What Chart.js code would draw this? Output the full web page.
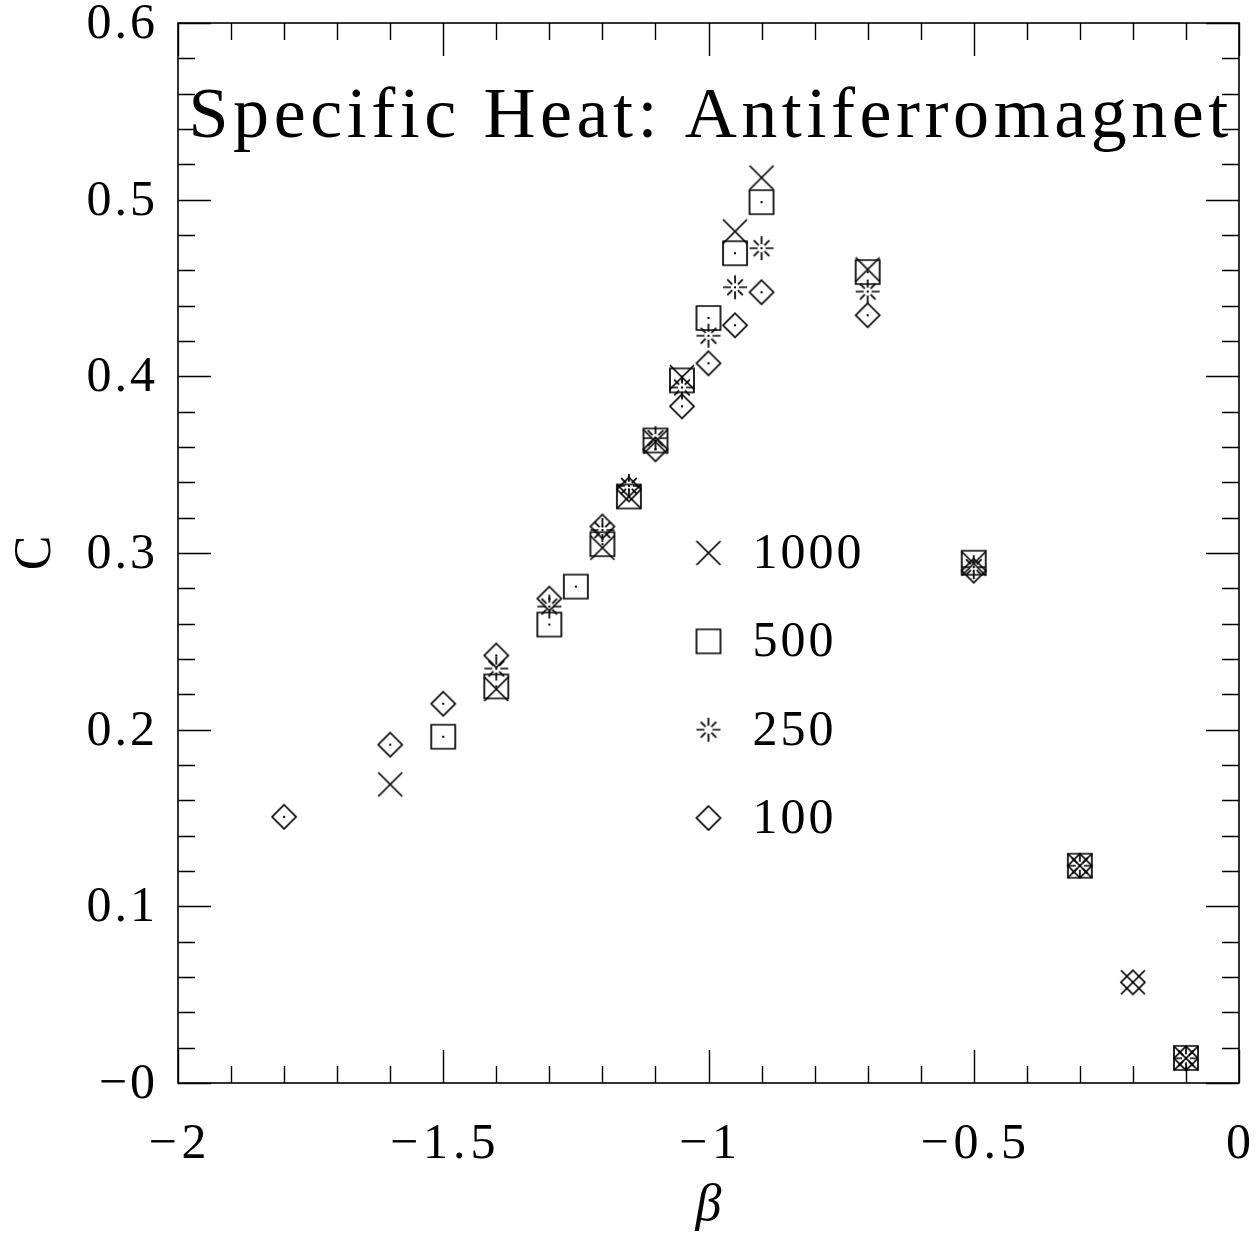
<!DOCTYPE html>
<html>
<head>
<meta charset="utf-8">
<script src="https://cdn.jsdelivr.net/npm/chart.js@4.4.1/dist/chart.umd.min.js"></script>
<style>
  html, body { margin: 0; padding: 0; background: #fff; }
  #wrap { width: 1258px; height: 1233px; }
</style>
</head>
<body>
<div id="wrap"><canvas id="c" width="1258" height="1233"></canvas></div>
<script>
// ---- Data ----
const seriesNames = ["1000", "500", "250", "100"];

const beta1000 = [-1.6, -1.4, -1.2, -1.15, -1.1, -1.05, -0.95, -0.9, -0.7, -0.5, -0.3, -0.2, -0.1];
const c1000    = [0.169, 0.223, 0.303, 0.332, 0.363, 0.3995, 0.482, 0.5125, 0.4605, 0.294, 0.123, 0.057, 0.014];

const beta500 = [-1.5, -1.4, -1.3, -1.25, -1.2, -1.15, -1.1, -1.05, -1.0, -0.95, -0.9, -0.7, -0.5, -0.3, -0.1];
const c500    = [0.196, 0.2245, 0.2595, 0.281, 0.305, 0.332, 0.3637, 0.3977, 0.433, 0.4697, 0.4986, 0.459, 0.2945, 0.123, 0.0142];

const beta250 = [-1.4, -1.3, -1.2, -1.15, -1.1, -1.05, -1.0, -0.95, -0.9, -0.7, -0.5, -0.3, -0.1];
const c250    = [0.2346, 0.2697, 0.313, 0.338, 0.365, 0.3937, 0.423, 0.4504, 0.4725, 0.448, 0.292, 0.123, 0.014];

const beta100 = [-1.8, -1.6, -1.5, -1.4, -1.3, -1.2, -1.15, -1.1, -1.05, -1.0, -0.95, -0.9, -0.7, -0.5, -0.3, -0.2, -0.1];
const c100    = [0.1507, 0.1915, 0.2147, 0.242, 0.2742, 0.315, 0.336, 0.3587, 0.383, 0.4074, 0.4289, 0.4476, 0.4346, 0.29, 0.123, 0.057, 0.014];

const xTickValues = [-2, -1.5, -1, -0.5, 0];
const xTickLabels = ["\u22122", "\u22121.5", "\u22121", "\u22120.5", "0"];
const yTickValues = [0, 0.1, 0.2, 0.3, 0.4, 0.5, 0.6];
const yTickLabels = ["\u22120", "0.1", "0.2", "0.3", "0.4", "0.5", "0.6"];
const legendRowsC = [0.3, 0.25, 0.2, 0.15];
const legendBeta = -1.0;
const titleText = "Specific Heat: Antiferromagnet";
const xTitle = "β";
const yTitle = "C";

// ---- Marker images ----
const MS = 30, HC = MS / 2, R = 12;
function makeMarker(kind, dot) {
  const cv = document.createElement('canvas');
  cv.width = MS; cv.height = MS;
  const g = cv.getContext('2d');
  g.strokeStyle = '#000'; g.fillStyle = '#000'; g.lineWidth = 1.7;
  g.beginPath();
  if (kind === 'x') {
    g.moveTo(HC - R, HC - R); g.lineTo(HC + R, HC + R);
    g.moveTo(HC + R, HC - R); g.lineTo(HC - R, HC + R);
  } else if (kind === 'square') {
    g.rect(HC - R, HC - R, 2 * R, 2 * R);
  } else if (kind === 'diamond') {
    g.moveTo(HC, HC - R); g.lineTo(HC + R, HC); g.lineTo(HC, HC + R); g.lineTo(HC - R, HC); g.closePath();
  } else if (kind === 'star') {
    for (let k = 0; k < 8; k++) {
      const a = k * Math.PI / 4;
      const r0 = 4, r1 = (k % 2 === 0) ? 12 : 11;
      g.moveTo(HC + r0 * Math.cos(a), HC + r0 * Math.sin(a));
      g.lineTo(HC + r1 * Math.cos(a), HC + r1 * Math.sin(a));
    }
  }
  g.stroke();
  if (dot) g.fillRect(HC - 1, HC - 1, 2, 2);
  return cv;
}
const kinds = ['x', 'square', 'star', 'diamond'];
const markers = kinds.map(k => makeMarker(k, k !== 'x'));
const legendMarkers = kinds.map(k => makeMarker(k, false));

function pts(xs, ys) { return xs.map((x, i) => ({ x: x, y: ys[i] })); }
const allData = [pts(beta1000, c1000), pts(beta500, c500), pts(beta250, c250), pts(beta100, c100)];

const FONT = '"Liberation Serif"';

function fitText(ctx, text, cx, y, size, width) {
  ctx.font = size + 'px ' + FONT;
  ctx.letterSpacing = '0px';
  const w = ctx.measureText(text).width;
  const sp = (width - w) / (text.length - 1);
  ctx.letterSpacing = sp.toFixed(2) + 'px';
  ctx.textAlign = 'left';
  ctx.fillText(text, cx - width / 2, y);
  ctx.letterSpacing = '0px';
}

// ---- Plugin: frame, inward ticks, labels, title, legend ----
const decor = {
  id: 'decor',
  afterDatasetsDraw(chart) {
    const { ctx, chartArea: a, scales: { x, y } } = chart;
    ctx.save();
    ctx.strokeStyle = '#000';
    ctx.lineWidth = 1.6;
    ctx.strokeRect(a.left, a.top, a.right - a.left, a.bottom - a.top);
    ctx.beginPath();
    for (let i = 0; i <= 20; i++) {
      const v = -2 + i * 0.1;
      const px = Math.round(x.getPixelForValue(v)) + 0.5;
      const L = (i % 5 === 0) ? 33 : 17;
      ctx.moveTo(px, a.bottom); ctx.lineTo(px, a.bottom - L);
      ctx.moveTo(px, a.top); ctx.lineTo(px, a.top + L);
    }
    for (let i = 0; i <= 30; i++) {
      const v = i * 0.02;
      const py = Math.round(y.getPixelForValue(v)) + 0.5;
      const L = (i % 5 === 0) ? 33 : 17;
      ctx.moveTo(a.left, py); ctx.lineTo(a.left + L, py);
      ctx.moveTo(a.right, py); ctx.lineTo(a.right - L, py);
    }
    ctx.lineWidth = 1.4;
    ctx.stroke();

    ctx.fillStyle = '#000';
    ctx.textBaseline = 'middle';

    // y tick labels
    ctx.font = '50px ' + FONT;
    ctx.letterSpacing = '3px';
    ctx.textAlign = 'right';
    yTickValues.forEach((v, i) => {
      ctx.fillText(yTickLabels[i], 158, y.getPixelForValue(v) + 2);
    });
    // x tick labels
    ctx.letterSpacing = '5px';
    ctx.textAlign = 'center';
    xTickValues.forEach((v, i) => {
      ctx.fillText(xTickLabels[i], x.getPixelForValue(v) + 2, 1145);
    });
    ctx.letterSpacing = '0px';

    // axis titles
    ctx.font = 'italic 52px ' + FONT;
    ctx.textAlign = 'center';
    ctx.fillText(xTitle, (a.left + a.right) / 2, 1206);
    ctx.save();
    ctx.translate(36, y.getPixelForValue(0.3));
    ctx.rotate(-Math.PI / 2);
    ctx.font = '52px ' + FONT;
    ctx.fillText(yTitle, 0, 0);
    ctx.restore();

    // title inside the plot
    ctx.textBaseline = 'alphabetic';
    fitText(ctx, titleText, (a.left + a.right) / 2, 137, 72, 1040);

    // legend
    const lx = x.getPixelForValue(legendBeta);
    ctx.font = '50px ' + FONT;
    ctx.letterSpacing = '3px';
    ctx.textAlign = 'left';
    ctx.textBaseline = 'middle';
    seriesNames.forEach((name, i) => {
      const py = y.getPixelForValue(legendRowsC[i]);
      ctx.drawImage(legendMarkers[i], lx - MS / 2, py - MS / 2);
      ctx.fillText(name, lx + 44, py + 2);
    });
    ctx.letterSpacing = '0px';
    ctx.restore();
  }
};

function fixPad(s) { s.paddingLeft = 0; s.paddingRight = 0; s.paddingTop = 0; s.paddingBottom = 0; }

new Chart(document.getElementById('c'), {
  type: 'scatter',
  data: {
    datasets: allData.map((d, i) => ({
      label: seriesNames[i],
      data: d,
      pointStyle: markers[i],
      showLine: false,
      borderColor: '#000',
      backgroundColor: '#000'
    }))
  },
  options: {
    responsive: false,
    animation: false,
    devicePixelRatio: 1,
    layout: { padding: { top: 23, right: 19, left: 0, bottom: 0 } },
    plugins: { legend: { display: false }, tooltip: { enabled: false }, title: { display: false } },
    scales: {
      x: {
        type: 'linear', min: -2, max: 0,
        afterFit: s => { s.height = 150; fixPad(s); },
        afterBuildTicks: s => { s.ticks = xTickValues.map(v => ({ value: v })); },
        grid: { display: false, drawTicks: false },
        border: { display: false },
        ticks: { display: false },
        title: { display: false }
      },
      y: {
        type: 'linear', min: 0, max: 0.6,
        afterFit: s => { s.width = 178; fixPad(s); },
        afterBuildTicks: s => { s.ticks = yTickValues.map(v => ({ value: v })); },
        grid: { display: false, drawTicks: false },
        border: { display: false },
        ticks: { display: false },
        title: { display: false }
      }
    }
  },
  plugins: [decor]
});
</script>
</body>
</html>
